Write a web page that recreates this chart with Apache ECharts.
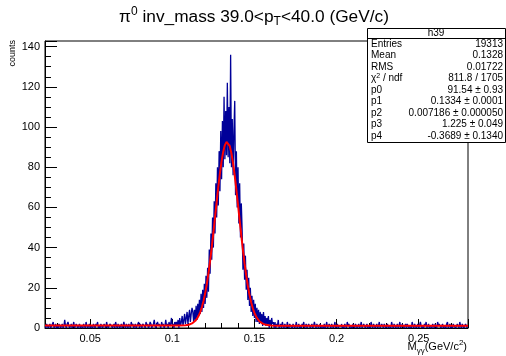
<!DOCTYPE html>
<html>
<head>
<meta charset="utf-8">
<script src="https://cdn.jsdelivr.net/npm/echarts@6/dist/echarts.min.js"></script>
<style>
html,body{margin:0;padding:0;background:#fff;}
#c{width:506px;height:356px;}
</style>
</head>
<body>
<div id="c"></div>
<script>
// ---- data ----
const xMin = 0.0225, xMax = 0.28, binWidth = 0.0005;
const yMax = 142.8;
const xTicks = [0.05, 0.1, 0.15, 0.2, 0.25];
const yTicks = [0, 20, 40, 60, 80, 100, 120, 140];

// histogram counts, one row per 0.01 in M (20 bins of 0.0005)
const counts = [
  1,0,2,1,0,1,2,0,1,1,3,0,1,2,0,1,0,2,1,0,
  1,2,0,1,4,1,0,2,3,1,0,1,2,0,1,3,0,1,2,1,
  0,1,2,0,1,1,0,2,1,0,3,1,0,1,2,0,1,1,0,2,
  1,0,2,1,3,0,1,0,2,1,0,1,2,1,0,3,1,0,1,2,
  2,1,0,1,2,0,3,1,0,2,1,0,1,2,0,1,3,1,0,2,
  1,0,2,1,0,3,1,2,0,1,2,0,1,1,3,0,2,1,0,2,
  2,1,0,3,1,2,0,1,3,2,0,1,2,4,1,0,2,3,1,2,
  2,0,3,1,2,0,1,4,1,2,0,3,1,2,5,1,2,0,3,1,
  3,1,4,0,5,1,3,6,1,4,7,2,5,8,2,6,9,3,7,10,
  8,3,9,4,11,4,12,6,14,7,17,8,19,10,22,12,26,15,30,18,
  39,27,47,34,55,40,63,47,72,55,80,61,88,68,98,74,103,80,115,84,
  108,86,122,85,110,82,136,80,104,76,98,113,66,88,60,80,52,72,45,62,
  49,29,42,24,36,19,29,14,25,11,20,8,16,6,14,5,12,3,10,3,
  9,2,8,3,7,1,8,2,6,1,5,2,6,0,4,1,5,2,3,0,
  3,0,2,1,4,0,1,2,0,3,1,0,2,1,0,3,1,0,2,1,
  1,0,2,1,0,1,3,0,1,2,0,1,0,2,1,3,0,1,2,0,
  0,2,1,0,1,2,0,1,3,1,0,2,1,0,1,2,0,1,1,0,
  2,0,1,3,0,1,2,1,0,2,1,0,1,3,0,1,2,0,1,1,
  1,2,0,1,0,2,1,0,3,1,2,0,1,1,0,2,1,0,2,1,
  0,1,2,0,1,3,0,1,2,1,0,1,2,0,1,1,0,3,1,0,
  2,1,0,1,2,0,1,3,0,1,2,1,0,2,1,0,1,2,0,1,
  1,0,3,1,0,2,1,0,1,2,0,1,3,0,1,2,1,0,1,2,
  0,2,1,0,1,1,0,3,1,0,2,1,0,1,2,0,1,3,1,0,
  1,0,2,1,3,0,1,2,0,1,1,0,2,1,0,2,1,0,3,1,
  2,1,0,1,2,0,1,1,0,2,3,0,1,2,0,1,0,2,1,1,
  0,1,2,1,0,3,1,0,2,1,0,1,2,1,0
];

// fitted curve (red)
const fitX = [0.0225,0.05,0.08,0.1,0.104,0.108,0.11,0.111,0.112,0.113,0.114,0.115,0.116,0.117,0.118,0.119,0.12,0.121,0.122,0.123,0.124,0.125,0.126,0.127,0.128,0.129,0.13,0.131,0.132,0.133,0.1334,0.134,0.135,0.136,0.137,0.138,0.139,0.14,0.141,0.142,0.143,0.144,0.145,0.146,0.147,0.148,0.149,0.15,0.151,0.152,0.153,0.154,0.155,0.156,0.157,0.158,0.16,0.165,0.2,0.25,0.28];
const fitY = [1.22,1.21,1.2,1.19,1.21,1.36,1.64,1.9,2.27,2.8,3.58,4.63,6.06,7.95,10.4,13.47,17.26,21.8,27.2,33.3,40.09,47.4,55.05,62.75,70.2,77.1,83.03,87.75,91.0,92.6,92.72,92.4,90.48,86.9,81.92,75.8,68.73,61.2,53.5,45.9,38.68,32.0,26.05,20.85,16.44,12.8,9.84,7.5,5.73,4.4,3.39,2.7,2.16,1.8,1.58,1.44,1.26,1.17,1.15,1.13,1.12];

// stats box
const statName = 'h39';
const statLabels = ['Entries','Mean','RMS','{n|χ}{sup|2}{n| / ndf}','p0','p1','p2','p3','p4'];
const statValues = ['19313','0.1328','0.01722','811.8 / 1705','91.54 ± 0.93','0.1334 ± 0.0001','0.007186 ± 0.000050','1.225 ± 0.049','-0.3689 ± 0.1340'];

const titleText = '{n|π}{sup|0}{n| inv_mass 39.0<p}{sub|T}{n|<40.0 (GeV/c)}';
const xTitle = '{n|M}{sub|γγ}{n|(GeV/c}{sup|2}{n|)}';
const yTitle = 'counts';

// ---- chart ----
const FONT = '"Liberation Sans", Arial, sans-serif';
const histData = counts.map((c, i) => [xMin + (i + 0.5) * binWidth, c]);
const fitData = fitX.map((x, i) => [x, fitY[i]]);

const G = {left: 45, right: 38, top: 41, bottom: 28};

const graphics = [];
// title
graphics.push({
  type: 'text', x: 254, y: 17, z: 10,
  style: {
    text: titleText, align: 'center', verticalAlign: 'middle', fill: '#000',
    rich: {
      n: {fontFamily: FONT, fontSize: 17.3, lineHeight: 22, verticalAlign: 'middle', fill: '#000'},
      sup: {fontFamily: FONT, fontSize: 12, lineHeight: 22, verticalAlign: 'top', fill: '#000'},
      sub: {fontFamily: FONT, fontSize: 12, lineHeight: 22, verticalAlign: 'bottom', fill: '#000'}
    }
  }
});
// stats box
const bx = 367, by = 28, bw = 138, bh = 114;
graphics.push({type: 'rect', z: 10, shape: {x: bx + 0.5, y: by + 0.5, width: bw, height: bh},
  style: {fill: '#fff', stroke: '#000', lineWidth: 1}});
graphics.push({type: 'line', z: 11, shape: {x1: bx, y1: 38.5, x2: bx + bw, y2: 38.5},
  style: {stroke: '#000', lineWidth: 1}});
graphics.push({type: 'text', z: 11, x: bx + bw / 2, y: 33,
  style: {text: statName, align: 'center', verticalAlign: 'middle', font: '10px ' + FONT, fill: '#000'}});
const rowH = 11.5, row0 = 44;
statLabels.forEach((t, i) => {
  graphics.push({type: 'text', z: 11, x: 371, y: row0 + i * rowH,
    style: {text: t, align: 'left', verticalAlign: 'middle', font: '10px ' + FONT, fill: '#000',
      rich: {
        n: {fontFamily: FONT, fontSize: 10, lineHeight: 12, verticalAlign: 'middle'},
        sup: {fontFamily: FONT, fontSize: 7, lineHeight: 12, verticalAlign: 'top'}
      }}});
  graphics.push({type: 'text', z: 11, x: 503, y: row0 + i * rowH,
    style: {text: statValues[i], align: 'right', verticalAlign: 'middle', font: '10px ' + FONT, fill: '#000'}});
});
// axis titles
graphics.push({
  type: 'text', x: 467, y: 347, z: 10,
  style: {
    text: xTitle, align: 'right', verticalAlign: 'middle',
    rich: {
      n: {fontFamily: FONT, fontSize: 11, lineHeight: 16, verticalAlign: 'middle', fill: '#000'},
      sup: {fontFamily: FONT, fontSize: 8, lineHeight: 16, verticalAlign: 'top', fill: '#000'},
      sub: {fontFamily: FONT, fontSize: 8, lineHeight: 16, verticalAlign: 'bottom', fill: '#000'}
    }
  }
});
graphics.push({
  type: 'text', x: 13, y: 40, rotation: Math.PI / 2, z: 10,
  style: {text: yTitle, align: 'right', verticalAlign: 'middle', font: '9px ' + FONT, fill: '#000'}
});

const isTick = (v, list) => list.some(t => Math.abs(t - v) < 1e-9);

const option = {
  animation: false,
  backgroundColor: '#fff',
  grid: {left: G.left, right: G.right, top: G.top, bottom: G.bottom, show: true,
         borderColor: '#000', borderWidth: 1, backgroundColor: 'transparent'},
  xAxis: {
    type: 'value', min: xMin, max: xMax, splitNumber: 5,
    axisLine: {show: true, onZero: false, lineStyle: {color: '#000', width: 1}},
    axisTick: {show: true, inside: true, length: 9, lineStyle: {color: '#000'}},
    minorTick: {show: true, splitNumber: 5, length: 5, lineStyle: {color: '#000'}},
    splitLine: {show: false},
    axisLabel: {showMinLabel: false, showMaxLabel: false, margin: 5, color: '#000',
      fontFamily: FONT, fontSize: 11,
      formatter: v => isTick(v, xTicks) ? String(+v.toFixed(4)) : ''}
  },
  yAxis: {
    type: 'value', min: 0, max: yMax, interval: 20,
    axisLine: {show: true, lineStyle: {color: '#000', width: 1}},
    axisTick: {show: true, inside: true, length: 12, lineStyle: {color: '#000'}},
    minorTick: {show: true, splitNumber: 4, length: 6, lineStyle: {color: '#000'}},
    splitLine: {show: false},
    axisLabel: {showMaxLabel: false, margin: 5, color: '#000', fontFamily: FONT, fontSize: 11,
      formatter: v => isTick(v, yTicks) ? String(v) : ''}
  },
  series: [
    {type: 'line', data: histData, step: 'middle', showSymbol: false, symbol: 'none',
     lineStyle: {color: '#000099', width: 1.3}, z: 2, clip: true},
    {type: 'line', data: fitData, showSymbol: false, symbol: 'none', smooth: false,
     lineStyle: {color: '#ff0000', width: 2}, z: 3, clip: true}
  ],
  graphic: graphics
};

const chart = echarts.init(document.getElementById('c'), null, {renderer: 'canvas'});
chart.setOption(option);
</script>
</body>
</html>
